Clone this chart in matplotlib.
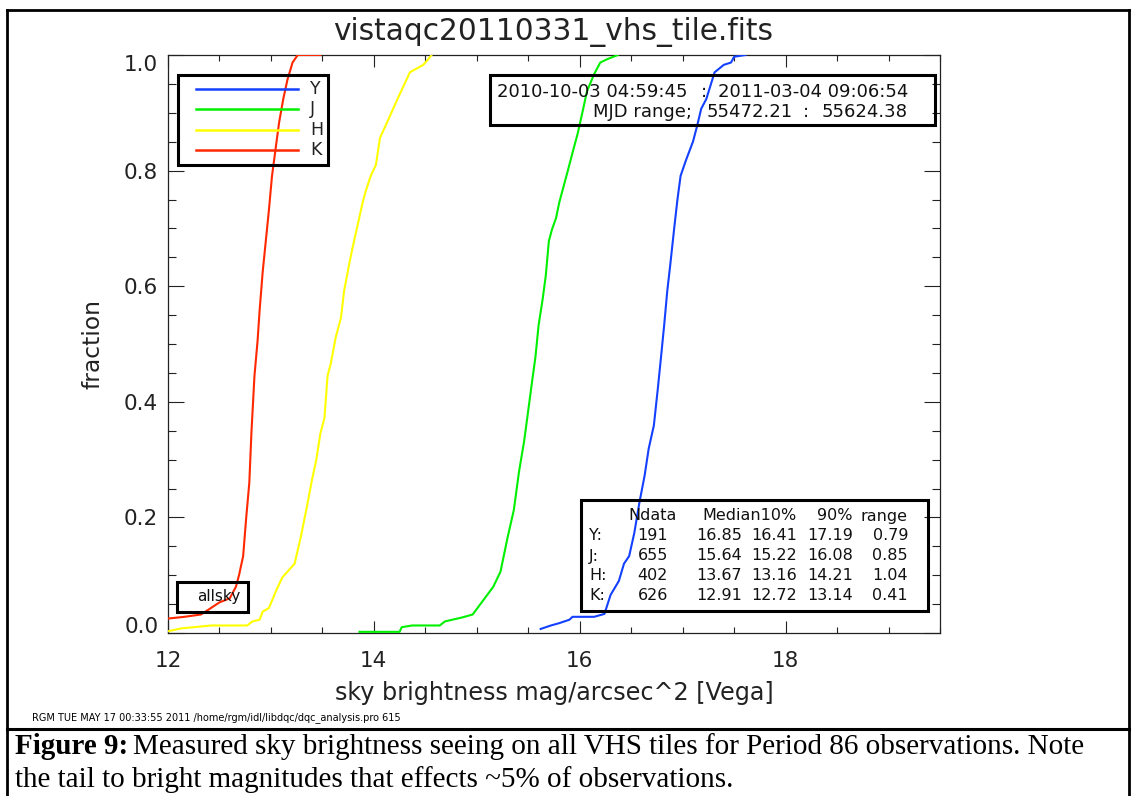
import numpy as np
import matplotlib.pyplot as plt
from matplotlib.ticker import MultipleLocator
from matplotlib.patches import Rectangle
from matplotlib.lines import Line2D

# cumulative sky brightness distributions (mag/arcsec^2 vs fraction)
k_mag = [12.00, 12.16, 12.32, 12.39, 12.50, 12.60, 12.66, 12.69, 12.73, 12.76,
         12.79, 12.81, 12.84, 12.87, 12.89, 12.92, 12.95, 12.98, 13.01, 13.05,
         13.08, 13.12, 13.16, 13.21, 13.26, 13.48]
k_frac = [0.025, 0.028, 0.032, 0.040, 0.053, 0.060, 0.080, 0.100, 0.133, 0.200,
          0.260, 0.345, 0.445, 0.505, 0.558, 0.625, 0.678, 0.731, 0.790, 0.844,
          0.884, 0.924, 0.957, 0.987, 1.000, 1.000]

h_mag = [12.00, 12.13, 12.42, 12.77, 12.82, 12.89, 12.92, 12.98, 13.05, 13.11,
         13.23, 13.29, 13.35, 13.40, 13.44, 13.48, 13.52, 13.55, 13.58, 13.63,
         13.68, 13.71, 13.76, 13.79, 13.84, 13.89, 13.92, 13.97, 14.02, 14.06,
         14.13, 14.23, 14.35, 14.48, 14.53, 14.56]
h_frac = [0.003, 0.008, 0.013, 0.013, 0.020, 0.023, 0.037, 0.043, 0.073, 0.096,
          0.120, 0.166, 0.219, 0.266, 0.299, 0.345, 0.372, 0.445, 0.465, 0.512,
          0.545, 0.591, 0.638, 0.664, 0.704, 0.744, 0.764, 0.791, 0.810, 0.857,
          0.884, 0.924, 0.970, 0.983, 0.993, 1.000]

j_mag = [13.86, 14.25, 14.27, 14.37, 14.64, 14.69, 14.86, 14.96, 15.06, 15.16,
         15.23, 15.30, 15.36, 15.41, 15.46, 15.49, 15.54, 15.57, 15.60, 15.64,
         15.67, 15.70, 15.73, 15.77, 15.80, 15.83, 15.88, 15.93, 15.98, 16.03,
         16.07, 16.14, 16.20, 16.27, 16.37]
j_frac = [0.002, 0.002, 0.010, 0.013, 0.013, 0.020, 0.027, 0.032, 0.056, 0.080,
          0.106, 0.166, 0.213, 0.279, 0.332, 0.372, 0.439, 0.478, 0.532, 0.578,
          0.618, 0.678, 0.698, 0.718, 0.744, 0.764, 0.797, 0.831, 0.864, 0.904,
          0.937, 0.967, 0.987, 0.993, 1.000]

y_mag = [15.62, 15.72, 15.80, 15.90, 15.93, 16.14, 16.24, 16.30, 16.38, 16.43,
         16.48, 16.53, 16.58, 16.63, 16.67, 16.72, 16.76, 16.79, 16.82, 16.85,
         16.88, 16.92, 16.95, 16.98, 17.03, 17.10, 17.14, 17.18, 17.23, 17.31,
         17.40, 17.47, 17.50, 17.61]
y_frac = [0.007, 0.013, 0.017, 0.023, 0.028, 0.028, 0.033, 0.066, 0.090, 0.120,
          0.133, 0.173, 0.226, 0.272, 0.319, 0.359, 0.425, 0.478, 0.532, 0.591,
          0.638, 0.704, 0.751, 0.791, 0.817, 0.850, 0.877, 0.907, 0.924, 0.970,
          0.983, 0.987, 0.997, 1.000]

# summary table
bands = ['Y:', 'J:', 'H:', 'K:']
ndata = [191, 655, 402, 626]
median = [16.85, 15.64, 13.67, 12.91]
p10 = [16.41, 15.22, 13.16, 12.72]
p90 = [17.19, 16.08, 14.21, 13.14]
mag_range = [0.79, 0.85, 1.04, 0.41]

series = [('Y', y_mag, y_frac, '#1440ff'),
          ('J', j_mag, j_frac, '#00f000'),
          ('H', h_mag, h_frac, '#ffff00'),
          ('K', k_mag, k_frac, '#ff2800')]

W, H = 1136, 796
INK = '#222222'


def fx(x):
    return x / W


def fy(y):
    return 1 - y / H


plt.rcParams['font.family'] = 'DejaVu Sans'
fig = plt.figure(figsize=(W / 100, H / 100), dpi=100)
ax = fig.add_axes([fx(168), fy(633), (940 - 168) / W, (633 - 55) / H])

for name, mag, frac, col in series:
    ax.plot(mag, frac, color=col, lw=1.5, zorder=3)

ax.set_xlim(12, 19.5)
ax.set_ylim(0, 1)
ax.xaxis.set_major_locator(MultipleLocator(2))
ax.xaxis.set_minor_locator(MultipleLocator(0.5))
ax.yaxis.set_major_locator(MultipleLocator(0.2))
ax.yaxis.set_minor_locator(MultipleLocator(0.05))
ax.xaxis.set_major_formatter(lambda v, p: f'{v:.0f}')
ax.yaxis.set_major_formatter(lambda v, p: f'{v:.1f}')
ax.tick_params(which='both', direction='in', top=True, right=True,
               color=INK, width=0.8, labelsize=15.5, labelcolor=INK)
ax.tick_params(axis='x', which='major', length=8.5, pad=13)
ax.tick_params(axis='x', which='minor', length=4.5)
ax.tick_params(axis='y', which='major', length=11.5, pad=7)
ax.tick_params(axis='y', which='minor', length=5.8)
for s in ax.spines.values():
    s.set_linewidth(0.9)
    s.set_color(INK)

ax.set_xlabel('sky brightness mag/arcsec^2 [Vega]', fontsize=17.2, color=INK)
ax.xaxis.set_label_coords(0.5, (633 - 693) / 578)
ax.xaxis.label.set_va('center')
ax.set_ylabel('fraction', fontsize=16.8, color=INK)
ax.yaxis.set_label_coords((93 - 168) / 772, 0.5)
ax.yaxis.label.set_va('center')

fig.canvas.draw()
for lab in ax.get_yticklabels():
    if lab.get_text() == '1.0':
        lab.set_va('top')
    elif lab.get_text() == '0.0':
        lab.set_va('baseline')

fig.text(fx(553), fy(32), 'vistaqc20110331_vhs_tile.fits', fontsize=21.3,
         ha='center', va='center', color=INK)


def box(x0, y0, x1, y1, lw=2.2):
    fig.add_artist(Rectangle((fx(x0), fy(y1)), fx(x1) - fx(x0), fy(y0) - fy(y1),
                             transform=fig.transFigure, fill=False,
                             ec='black', lw=lw, zorder=5))


# band legend
box(178, 75, 328, 165)
for i, (name, mag, frac, col) in enumerate(series):
    yy = 89 + 20.3 * i
    fig.add_artist(Line2D([fx(196), fx(298)], [fy(yy), fy(yy)], color=col,
                          lw=1.8, transform=fig.transFigure, zorder=6))
    fig.text(fx(310), fy(yy), name, fontsize=12.5, va='center', color=INK,
             zorder=6)

# date range box
box(490, 75, 935, 125)
dkw = dict(fontsize=13, va='center', zorder=6, color='#111111')
fig.text(fx(497), fy(92), '2010-10-03 04:59:45', **dkw)
fig.text(fx(704), fy(92), ':', ha='center', **dkw)
fig.text(fx(908), fy(92), '2011-03-04 09:06:54', ha='right', **dkw)
fig.text(fx(593), fy(112), 'MJD range;', **dkw)
fig.text(fx(793), fy(112), '55472.21', ha='right', **dkw)
fig.text(fx(806), fy(112), ':', ha='center', **dkw)
fig.text(fx(908), fy(112), '55624.38', ha='right', **dkw)

# statistics table
box(581, 500, 928, 611)
tkw = dict(fontsize=11.5, va='center', ha='right', zorder=6, color='#111111')
fig.text(fx(677), fy(516), 'Ndata', **tkw)
fig.text(fx(797), fy(516), 'Median10%', **tkw)
fig.text(fx(853), fy(516), '90%', **tkw)
fig.text(fx(908), fy(516), 'range', **tkw)
for i, b in enumerate(bands):
    yy = 536 + 20 * i
    fig.text(fx(589), fy(yy), b, fontsize=11.5, va='center', ha='left', zorder=6,
             color='#111111')
    fig.text(fx(668), fy(yy), f'{ndata[i]}', **tkw)
    fig.text(fx(742), fy(yy), f'{median[i]:.2f}', **tkw)
    fig.text(fx(797), fy(yy), f'{p10[i]:.2f}', **tkw)
    fig.text(fx(853), fy(yy), f'{p90[i]:.2f}', **tkw)
    fig.text(fx(908), fy(yy), f'{mag_range[i]:.2f}', **tkw)

# sample label
box(177, 582, 248, 612)
fig.text(fx(219), fy(597), 'allsky', fontsize=11, ha='center', va='center',
         zorder=6, color='#111111')

fig.text(fx(32), fy(718), 'RGM TUE MAY 17 00:33:55 2011 /home/rgm/idl/libdqc/dqc_analysis.pro 615',
         fontsize=7, va='center')

# page frame and caption
frame = dict(transform=fig.transFigure, color='black', zorder=7)
fig.add_artist(Line2D([fx(7), fx(1129)], [fy(10), fy(10)], lw=2, **frame))
fig.add_artist(Line2D([fx(7), fx(7)], [fy(10), fy(796)], lw=2, **frame))
fig.add_artist(Line2D([fx(1129), fx(1129)], [fy(10), fy(796)], lw=2, **frame))
fig.add_artist(Line2D([fx(7), fx(1129)], [fy(729), fy(729)], lw=2.2, **frame))

cap_font = ['Liberation Serif', 'DejaVu Serif']
t1 = fig.text(fx(15), fy(747), 'Figure 9:', fontsize=21, fontweight='bold',
              family=cap_font, va='center')
fig.canvas.draw()
bb = t1.get_window_extent()
fig.text(bb.x1 / W + 5 / W, fy(747),
         'Measured sky brightness seeing on all VHS tiles for Period 86 observations. Note',
         fontsize=21, family=cap_font, va='center')
fig.text(fx(15), fy(780), 'the tail to bright magnitudes that effects ~5% of observations.',
         fontsize=21, family=cap_font, va='center')

fig.savefig('out.png', dpi=100)
